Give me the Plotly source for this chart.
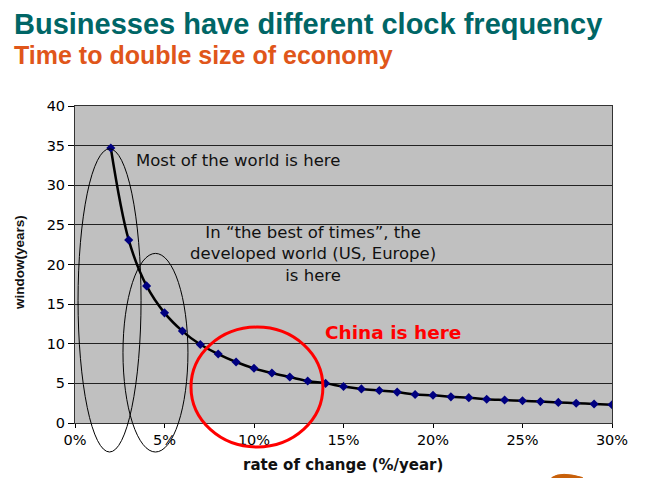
import plotly.graph_objects as go

# ---- data ----
rates = [0.02, 0.03, 0.04, 0.05, 0.06, 0.07, 0.08, 0.09, 0.10, 0.11, 0.12, 0.13, 0.14, 0.15,
         0.16, 0.17, 0.18, 0.19, 0.20, 0.21, 0.22, 0.23, 0.24, 0.25, 0.26, 0.27, 0.28, 0.29, 0.30]
years = [34.7, 23.1, 17.3, 13.9, 11.6, 9.9, 8.7, 7.7, 6.9, 6.3, 5.8, 5.3, 5.0, 4.6,
         4.3, 4.1, 3.9, 3.6, 3.5, 3.3, 3.2, 3.0, 2.9, 2.8, 2.7, 2.6, 2.5, 2.4, 2.3]
x_ticks = [0, 0.05, 0.10, 0.15, 0.20, 0.25, 0.30]
x_tick_labels = ["0%", "5%", "10%", "15%", "20%", "25%", "30%"]
y_ticks = [0, 5, 10, 15, 20, 25, 30, 35, 40]

XMIN, XMAX, YMIN, YMAX = 0, 0.30, 0, 40

def px(x):
    return (x - XMIN) / (XMAX - XMIN)

def py(y):
    return (y - YMIN) / (YMAX - YMIN)

fig = go.Figure()
fig.add_trace(go.Scatter(
    x=rates, y=years, mode="lines+markers",
    line=dict(color="black", width=2.5, shape="spline"),
    marker=dict(symbol="diamond", size=7, color="#000080"),
    hoverinfo="skip", showlegend=False,
))

shapes = []
# ellipse regions (drawn in paper coords so they may go below the axis)
regions = [
    (0.0017, 0.0369, -3.66, 34.6, "black", 1),
    (0.0268, 0.0631, -3.66, 21.4, "black", 1),
    (0.0648, 0.1385, -3.03, 12.1, "#FF0000", 3),
]
for x0, x1, y0, y1, col, w in regions:
    shapes.append(dict(type="circle", xref="paper", yref="paper",
                       x0=px(x0), x1=px(x1), y0=py(y0), y1=py(y1),
                       line=dict(color=col, width=w), layer="above"))
# small orange decoration at bottom right of the slide
shapes.append(dict(type="path", xref="paper", yref="paper",
                   path="M 0.888 -0.172 Q 0.905 -0.152 0.945 -0.172 L 0.95 -0.2 L 0.888 -0.2 Z",
                   fillcolor="#C8600A", line=dict(color="#C8600A", width=1), layer="above"))

annotations = [
    dict(text="<b>Businesses have different clock frequency</b>", x=-0.118, y=1.258,
         xanchor="left", yanchor="middle", font=dict(family="Liberation Sans, Arial", size=29, color="#006666")),
    dict(text="<b>Time to double size of economy</b>", x=-0.118, y=1.162,
         xanchor="left", yanchor="middle", font=dict(family="Liberation Sans, Arial", size=25, color="#E0561A")),
    dict(text="Most of the world is here", x=(238 - 75) / 537, y=(423 - 160) / 317,
         xanchor="center", yanchor="middle", font=dict(family="DejaVu Sans", size=16.5, color="#111111")),
    dict(text="In \u201cthe best of times\u201d, the<br>developed world (US, Europe)<br>is here",
         x=(313 - 75) / 537, y=(423 - 254) / 317, xanchor="center", yanchor="middle", align="center",
         font=dict(family="DejaVu Sans", size=16.5, color="#111111")),
    dict(text="<b>China is here</b>", x=(393 - 75) / 537, y=(423 - 332) / 317,
         xanchor="center", yanchor="middle", font=dict(family="DejaVu Sans", size=18.5, color="#FF0000")),
    dict(text="<b>rate of change (%/year)</b>", x=(343 - 75) / 537, y=(423 - 465) / 317,
         xanchor="center", yanchor="middle", font=dict(family="DejaVu Sans", size=15, color="#111111")),
    dict(text="<b>window(years)</b>", x=(19 - 75) / 537, y=(423 - 263) / 317, textangle=-90,
         xanchor="center", yanchor="middle", font=dict(family="Liberation Sans, Arial", size=13.5, color="#111111")),
]
for a in annotations:
    a.update(xref="paper", yref="paper", showarrow=False)

# the page body has an 8px margin, so the figure is sized and offset to compensate
fig.update_layout(
    width=656, height=470,
    margin=dict(l=67, r=52, t=98, b=55),
    paper_bgcolor="white", plot_bgcolor="#C0C0C0",
    shapes=shapes, annotations=annotations,
    xaxis=dict(range=[XMIN, XMAX], tickvals=x_ticks, ticktext=x_tick_labels,
               showgrid=False, zeroline=False, showline=True, mirror=True,
               linecolor="#333333", linewidth=1, ticks="outside", ticklen=4, tickcolor="black",
               tickfont=dict(family="DejaVu Sans", size=14.5, color="black")),
    yaxis=dict(range=[YMIN, YMAX], tickvals=y_ticks,
               showgrid=True, gridcolor="#222222", gridwidth=1, zeroline=False,
               showline=True, mirror=True, linecolor="#333333", linewidth=1,
               ticks="outside", ticklen=6, tickcolor="black",
               tickfont=dict(family="DejaVu Sans", size=14.5, color="black")),
)

fig.write_html("out.html")
